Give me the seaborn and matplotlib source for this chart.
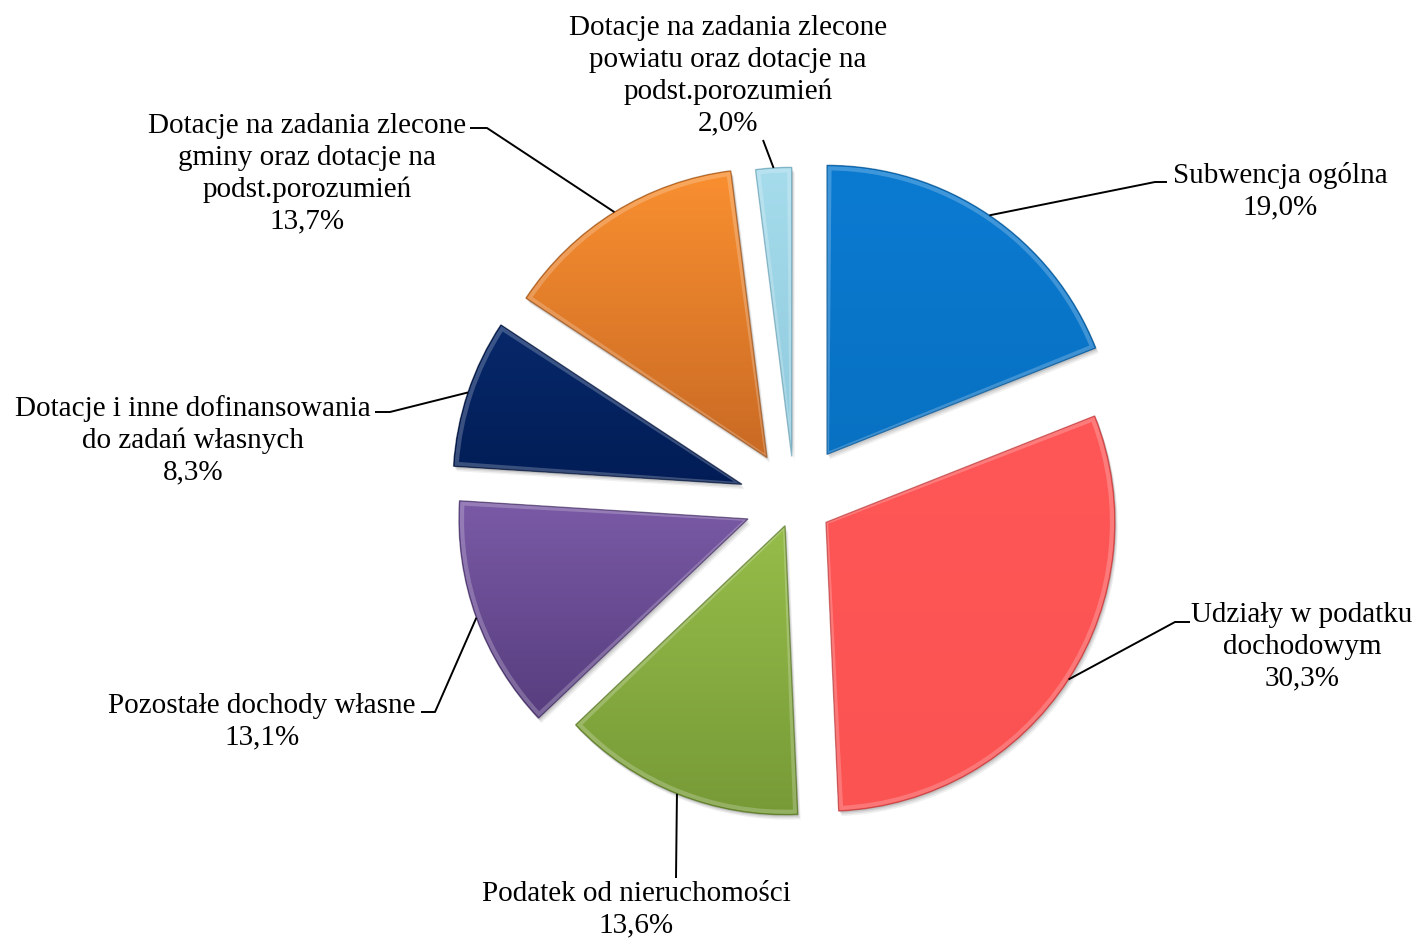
import numpy as np
import matplotlib
matplotlib.use("Agg")
import matplotlib.pyplot as plt
from matplotlib.patches import Wedge
from matplotlib.colors import to_rgb
import seaborn as sns

# ---------------- data ----------------
categories = [
    "Subwencja ogólna",
    "Udziały w podatku\ndochodowym",
    "Podatek od nieruchomości",
    "Pozostałe dochody własne",
    "Dotacje i inne dofinansowania\ndo zadań własnych",
    "Dotacje na zadania zlecone\ngminy oraz dotacje na\npodst.porozumień",
    "Dotacje na zadania zlecone\npowiatu oraz dotacje na\npodst.porozumień",
]
values = [19.0, 30.3, 13.6, 13.1, 8.3, 13.7, 2.0]
percent_labels = ["19,0%", "30,3%", "13,6%", "13,1%", "8,3%", "13,7%", "2,0%"]

# ---------------- style ----------------
colors = ["#0a78cc", "#fe5455", "#8bb040", "#6e5096", "#04235f", "#e57e2a", "#9fd6e8"]
top_colors = ["#0b7bd2", "#ff5757", "#96bd4a", "#7a5aa6", "#07286a", "#f98f30", "#a6dcec"]
bottom_colors = ["#0871c2", "#fb5252", "#779a37", "#573d7e", "#021d56", "#c96a24", "#8fcadd"]
edge_colors = ["#054f8a", "#b23a3b", "#4e6a1f", "#3e2a5c", "#010f30", "#8f4a14", "#5f98ac"]
explode_px = [57.6, 37.4, 25.6, 49.6, 55.5, 52.3, 45.7]   # slice offsets in pixels

W, H = 1419, 943
sns.set_theme(style="white")
plt.rcParams["font.family"] = ["Liberation Serif", "DejaVu Serif"]

fig = plt.figure(figsize=(W / 100, H / 100), dpi=100)
ax = fig.add_axes([0, 0, 1, 1])
ax.set_xlim(0, W)
ax.set_ylim(0, H)
ax.set_aspect("equal")
ax.axis("off")

def P(x, y):
    """pixel (from top-left) -> data coordinates"""
    return (x, H - y)

center = P(794.6, 502)
radius = 289

wedges, _ = ax.pie(values, explode=explode_px, colors=colors, startangle=90,
                   counterclock=False, center=center, radius=radius, frame=True,
                   wedgeprops=dict(linewidth=0))
for w, tc, bc, ec in zip(wedges, top_colors, bottom_colors, edge_colors):
    w.set_zorder(3)
    # soft drop shadow
    for k, a in ((5, 0.06), (3.5, 0.08), (2, 0.10)):
        sh = Wedge((w.center[0] + k * 0.6, w.center[1] - k), w.r, w.theta1, w.theta2,
                   facecolor="#000000", alpha=a, linewidth=0, zorder=2)
        ax.add_patch(sh)
    # vertical gradient fill clipped to the wedge
    ext = w.get_path().get_extents()
    n = 256
    t = np.linspace(0, 1, n)[:, None]
    c0, c1 = np.array(to_rgb(tc)), np.array(to_rgb(bc))
    grad = (1 - t)[:, :, None] * c0 + t[:, :, None] * c1
    grad = np.repeat(grad, 2, axis=1)
    im = ax.imshow(grad, extent=(ext.x0, ext.x1, ext.y0, ext.y1), origin="upper",
                   aspect="auto", zorder=3.2, interpolation="bilinear")
    im.set_clip_path(w)
    # bevel: light inner rim and darker outline
    hl = Wedge(w.center, w.r - 3, w.theta1 + 0.5, w.theta2 - 0.5,
               facecolor="none", edgecolor="white", alpha=0.22, linewidth=3, zorder=3.5)
    ax.add_patch(hl)
    ol = Wedge(w.center, w.r, w.theta1, w.theta2, facecolor="none",
               edgecolor=ec, alpha=0.6, linewidth=1.0, zorder=3.6)
    ax.add_patch(ol)

ax.set_xlim(0, W)
ax.set_ylim(0, H)

# label layout (pixel positions): text centre, leader start / elbow
label_pos = [(1280, 191), (1302, 647), (636, 910), (262, 722), (193, 440), (307, 174), (728, 76)]
leader_pts = [
    [(1167, 182), (1155, 182)],
    [(1190, 622), (1175, 622)],
    [(676, 878)],
    [(421, 712), (435, 712)],
    [(375, 412), (390, 412)],
    [(470, 128), (487, 128)],
    [(763, 140)],
]

for w, cat, pct, lp, pts in zip(wedges, categories, percent_labels, label_pos, leader_pts):
    ax.text(*P(*lp), f"{cat}\n{pct}", ha="center", va="center", multialignment="center",
            fontsize=21, color="black", linespacing=1.28, zorder=6)
    mid = np.deg2rad((w.theta1 + w.theta2) / 2)
    anchor = (w.center[0] + w.r * np.cos(mid), w.center[1] + w.r * np.sin(mid))
    xs = [P(*p)[0] for p in pts] + [anchor[0]]
    ys = [P(*p)[1] for p in pts] + [anchor[1]]
    ax.plot(xs, ys, color="black", linewidth=1.4, zorder=5, solid_capstyle="butt")

fig.savefig("out.png", dpi=100, facecolor="white")
